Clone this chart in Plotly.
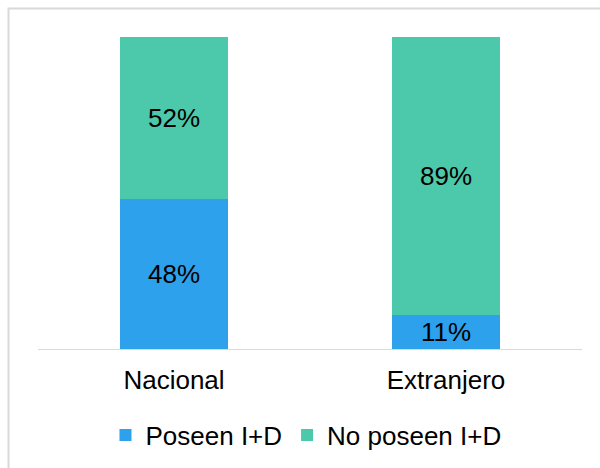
import plotly.graph_objects as go

categories = ["Nacional", "Extranjero"]
poseen = [48, 11]
no_poseen = [52, 89]
series_names = ["Poseen I+D", "No poseen I+D"]
colors = ["#2EA1EC", "#4CC9AA"]
title_text = "Empresas que poseen I+D según origen"

FONT = "Arial, Liberation Sans, sans-serif"

fig = go.Figure()
for name, vals, col in zip(series_names, [poseen, no_poseen], colors):
    fig.add_trace(go.Bar(
        x=categories, y=vals, name=name,
        marker=dict(color=col, line=dict(width=0)),
        text=[f"{v}%" for v in vals],
        textposition="inside", insidetextanchor="middle",
        textfont=dict(family=FONT, size=26, color="#000000"),
        constraintext="none",
        hoverinfo="skip",
    ))

fig.update_layout(
    barmode="stack",
    bargap=0.6,
    width=600, height=468,
    margin=dict(l=38, r=18, t=37, b=119, pad=0, autoexpand=False),
    paper_bgcolor="white", plot_bgcolor="white",
    font=dict(family=FONT, size=26, color="#000000"),
    uniformtext=dict(minsize=22, mode="show"),
    xaxis=dict(showline=True, linecolor="#d9d9d9", linewidth=1, ticks="outside",
               ticklen=8, tickcolor="rgba(0,0,0,0)",
               tickfont=dict(family=FONT, size=26, color="#000000"), showgrid=False),
    yaxis=dict(range=[0, 100], visible=False, showgrid=False),
    legend=dict(orientation="h", x=0.4926, xanchor="center", y=-0.276, yanchor="middle",
                font=dict(family=FONT, size=26, color="#000000"),
                itemclick=False, itemdoubleclick=False, traceorder="normal",
                itemwidth=30),
    showlegend=True,
    shapes=[dict(type="rect", xref="paper", yref="paper",
                 x0=-0.0542, x1=1.2, y0=-0.5, y1=1.0913,
                 line=dict(color="#d9d9d9", width=2), fillcolor="rgba(0,0,0,0)", layer="below")],
    annotations=[dict(text=f"<b>{title_text}</b>", xref="paper", yref="paper",
                      x=0.5, y=1.117, xanchor="center", yanchor="bottom", showarrow=False,
                      font=dict(family=FONT, size=18, color="#000000"))],
)

fig.write_html("out.html", config={"displayModeBar": False},
               post_script="document.body.style.margin='0';document.body.style.overflow='hidden';")
